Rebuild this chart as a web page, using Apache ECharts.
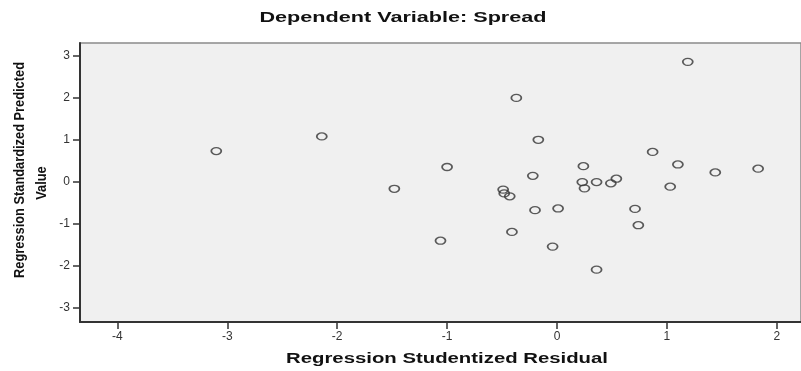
<!DOCTYPE html>
<html>
<head>
<meta charset="utf-8">
<script src="https://cdn.jsdelivr.net/npm/echarts@6/dist/echarts.min.js"></script>
<style>
html,body{margin:0;padding:0;background:#fff;}
#chart{width:801px;height:371px;}
</style>
</head>
<body>
<div id="chart"></div>
<script>
// Regression Studentized Residual (x)
var residuals = [-3.10, -2.14, -1.48, -1.00, -1.06, -0.37, -0.17, -0.22, -0.49, -0.48,
                 -0.43, -0.20, 0.01, -0.41, -0.04, 0.36, 0.24, 0.23, 0.25, 0.36,
                 0.49, 0.54, 0.87, 1.10, 1.03, 0.71, 0.74, 1.44, 1.83, 1.19];
// Regression Standardized Predicted Value (y)
var predicted = [0.73, 1.08, -0.17, 0.35, -1.41, 2.00, 1.00, 0.14, -0.19, -0.28,
                 -0.35, -0.68, -0.64, -1.20, -1.55, -2.10, 0.37, -0.01, -0.16, -0.01,
                 -0.04, 0.07, 0.71, 0.41, -0.12, -0.65, -1.04, 0.22, 0.31, 2.86];
var xTicks = [-4, -3, -2, -1, 0, 1, 2];
var yTicks = [-3, -2, -1, 0, 1, 2, 3];
var titleText = 'Dependent Variable: Spread';
var xName = 'Regression Studentized Residual';
var yNameLines = ['Regression Standardized Predicted', 'Value'];

var points = residuals.map(function (r, i) { return [r, predicted[i]]; });

var ctx = document.createElement('canvas').getContext('2d');
function textWidth(t, font) { ctx.font = font; return ctx.measureText(t).width; }
var boldFont = 'bold 14px "Liberation Sans", Arial, sans-serif';
var titleScale = 287 / textWidth(titleText, boldFont);
var xNameScale = 322 / textWidth(xName, boldFont);
var yNameScale = 216 / textWidth(yNameLines[0], boldFont);

function label(text, x, y, rot, sx) {
  return {
    type: 'text', x: x, y: y, rotation: rot, scaleX: sx, scaleY: 1, silent: true,
    style: {text: text, font: boldFont, fill: '#111', align: 'center', verticalAlign: 'middle'}
  };
}

var chart = echarts.init(document.getElementById('chart'), null, {renderer: 'canvas'});
chart.setOption({
  animation: false,
  backgroundColor: '#ffffff',
  grid: {
    left: 80, top: 43, right: 0, bottom: 49,
    outerBoundsMode: 'none', containLabel: false,
    show: true, backgroundColor: '#f0f0f0', borderColor: '#8a8a8a', borderWidth: 1.5
  },
  xAxis: {
    type: 'value',
    min: -4.34, max: 2.22,
    axisLine: {show: true, onZero: false, lineStyle: {color: '#333', width: 2}},
    axisTick: {show: true, customValues: xTicks, length: 7, lineStyle: {color: '#333', width: 1.5}},
    axisLabel: {customValues: xTicks, margin: 9, fontFamily: '"Liberation Sans", Arial, sans-serif', fontSize: 12, color: '#333'},
    splitLine: {show: false}
  },
  yAxis: {
    type: 'value',
    min: -3.35, max: 3.31,
    axisLine: {show: true, onZero: false, lineStyle: {color: '#333', width: 2}},
    axisTick: {show: true, customValues: yTicks, length: 7, lineStyle: {color: '#333', width: 1.5}},
    axisLabel: {customValues: yTicks, margin: 10, fontFamily: '"Liberation Sans", Arial, sans-serif', fontSize: 12, color: '#333'},
    splitLine: {show: false}
  },
  graphic: [
    label(titleText, 403, 18, 0, titleScale),
    label(xName, 447, 359, 0, xNameScale),
    label(yNameLines[0], 20, 170, Math.PI / 2, yNameScale),
    label(yNameLines[1], 42, 183, Math.PI / 2, yNameScale)
  ],
  series: [{
    type: 'scatter',
    data: points,
    symbol: 'circle',
    symbolSize: [10, 7],
    itemStyle: {color: 'rgba(0,0,0,0)', borderColor: '#333', borderWidth: 1.5}
  }]
});
</script>
</body>
</html>
